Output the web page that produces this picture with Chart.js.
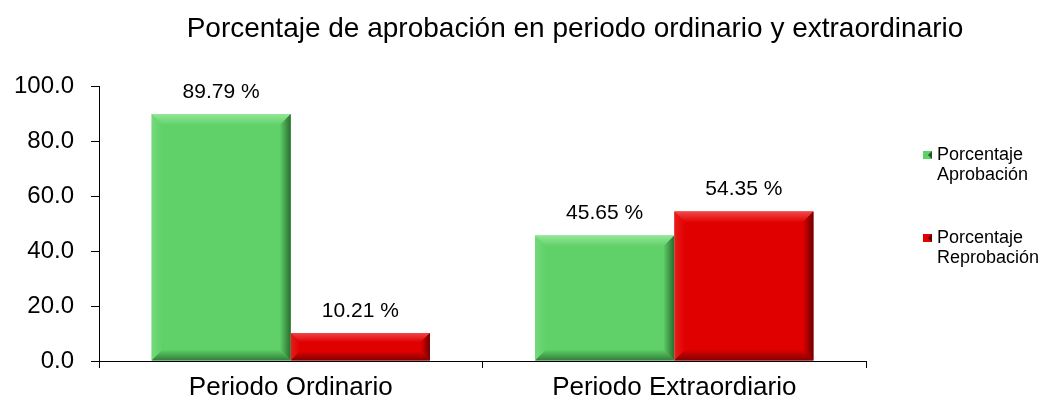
<!DOCTYPE html>
<html>
<head>
<meta charset="utf-8">
<script src="https://cdn.jsdelivr.net/npm/chart.js@4"></script>
<style>
  body { margin: 0; background: #fff; }
  #wrap { width: 1044px; height: 403px; }
</style>
</head>
<body>
<div id="wrap"><canvas id="myChart"></canvas></div>
<script>
// chart data
const categories = ['Periodo Ordinario', 'Periodo Extraordiario'];
const aprobacion = [89.79, 45.65];
const reprobacion = [10.21, 54.35];
const seriesNames = [['Porcentaje', 'Aprobación'], ['Porcentaje', 'Reprobación']];
const yTicks = [0, 20, 40, 60, 80, 100];
const chartTitle = 'Porcentaje de aprobación en periodo ordinario y extraordinario';

const FONT = '"Liberation Sans", Arial, sans-serif';
const greens = { base: '#5fd168', light: '#93e798', dark: '#1f5a24' };
const reds = { base: '#e10000', light: '#f04848', dark: '#5a0000' };

function grad(ctx, x0, y0, x1, y1, c0, c1) {
  const g = ctx.createLinearGradient(x0, y0, x1, y1);
  g.addColorStop(0, c0);
  g.addColorStop(1, c1);
  return g;
}

// soft bevel on each bar, drawn over the flat fill
const bevelPlugin = {
  id: 'bevel',
  afterDatasetsDraw(chart) {
    const ctx = chart.ctx;
    chart.data.datasets.forEach((ds, i) => {
      const pal = i === 0 ? greens : reds;
      chart.getDatasetMeta(i).data.forEach(bar => {
        const l = bar.x - bar.width / 2, r = bar.x + bar.width / 2;
        const t = bar.y, b = bar.base;
        const d = Math.min(11, (b - t) / 3);
        ctx.save();
        // top
        ctx.fillStyle = grad(ctx, 0, t, 0, t + d, pal.light, pal.base);
        ctx.beginPath();
        ctx.moveTo(l, t); ctx.lineTo(r, t); ctx.lineTo(r - d, t + d); ctx.lineTo(l + d, t + d);
        ctx.closePath(); ctx.fill();
        // left
        ctx.globalAlpha = 0.4;
        ctx.fillStyle = grad(ctx, l, 0, l + d, 0, pal.light, pal.base);
        ctx.beginPath();
        ctx.moveTo(l, t); ctx.lineTo(l + d, t + d); ctx.lineTo(l + d, b - d); ctx.lineTo(l, b);
        ctx.closePath(); ctx.fill();
        // right
        ctx.globalAlpha = 0.85;
        ctx.fillStyle = grad(ctx, r - d, 0, r, 0, pal.base, pal.dark);
        ctx.beginPath();
        ctx.moveTo(r, t); ctx.lineTo(r, b); ctx.lineTo(r - d, b - d); ctx.lineTo(r - d, t + d);
        ctx.closePath(); ctx.fill();
        // bottom
        ctx.globalAlpha = 0.7;
        ctx.fillStyle = grad(ctx, 0, b - d, 0, b, pal.base, pal.dark);
        ctx.beginPath();
        ctx.moveTo(l, b); ctx.lineTo(r, b); ctx.lineTo(r - d, b - d); ctx.lineTo(l + d, b - d);
        ctx.closePath(); ctx.fill();
        ctx.restore();
      });
    });
  }
};

// value labels, title and the two-line legend
const extrasPlugin = {
  id: 'extras',
  afterDraw(chart) {
    const ctx = chart.ctx;
    ctx.save();
    ctx.fillStyle = '#000';
    ctx.textAlign = 'center';
    ctx.textBaseline = 'middle';
    ctx.font = '21px ' + FONT;
    chart.data.datasets.forEach((ds, i) => {
      chart.getDatasetMeta(i).data.forEach((bar, j) => {
        ctx.fillText(ds.data[j].toFixed(2) + ' %', bar.x, bar.y - 22);
      });
    });

    ctx.font = '28px ' + FONT;
    ctx.textBaseline = 'alphabetic';
    ctx.fillText(chartTitle, 575, 37);

    ctx.font = '18px ' + FONT;
    ctx.textAlign = 'left';
    ctx.textBaseline = 'middle';
    const legendY = [155, 238];
    [greens, reds].forEach((pal, i) => {
      const y = legendY[i];
      ctx.fillStyle = pal.base;
      ctx.fillRect(923, y - 4, 9, 8);
      ctx.fillStyle = pal.dark;
      ctx.beginPath();
      ctx.moveTo(932, y - 4); ctx.lineTo(932, y + 4); ctx.lineTo(928, y);
      ctx.closePath(); ctx.fill();
      ctx.fillStyle = '#000';
      seriesNames[i].forEach((line, k) => ctx.fillText(line, 937, y + k * 20));
    });
    ctx.restore();
  }
};

const ctx = document.getElementById('myChart').getContext('2d');
const myChart = new Chart(ctx, {
  type: 'bar',
  data: {
    labels: categories,
    datasets: [{
      label: seriesNames[0].join(' '),
      data: aprobacion,
      backgroundColor: greens.base,
      categoryPercentage: 0.726,
      barPercentage: 1
    }, {
      label: seriesNames[1].join(' '),
      data: reprobacion,
      backgroundColor: reds.base,
      categoryPercentage: 0.726,
      barPercentage: 1
    }]
  },
  options: {
    responsive: true,
    maintainAspectRatio: false,
    animation: false,
    layout: { padding: { top: 86, right: 178, left: 0, bottom: 0 } },
    plugins: {
      legend: { display: false },
      title: { display: false },
      tooltip: { enabled: false }
    },
    scales: {
      x: {
        grid: { drawOnChartArea: false, drawTicks: true, tickLength: 7, color: '#000' },
        border: { color: '#000', width: 1 },
        ticks: { color: '#000', font: { family: FONT, size: 26 }, padding: 4 },
        afterFit(scale) { scale.height = 42; }
      },
      y: {
        min: 0,
        max: 100,
        afterBuildTicks(scale) { scale.ticks = yTicks.map(v => ({ value: v })); },
        grid: { drawOnChartArea: false, drawTicks: true, tickLength: 8, color: '#000' },
        border: { color: '#000', width: 1 },
        ticks: {
          color: '#000',
          font: { family: FONT, size: 24 },
          padding: 17,
          callback: v => Number(v).toFixed(1)
        },
        afterFit(scale) { scale.width = 99; }
      }
    }
  },
  plugins: [bevelPlugin, extrasPlugin]
});
</script>
</body>
</html>
